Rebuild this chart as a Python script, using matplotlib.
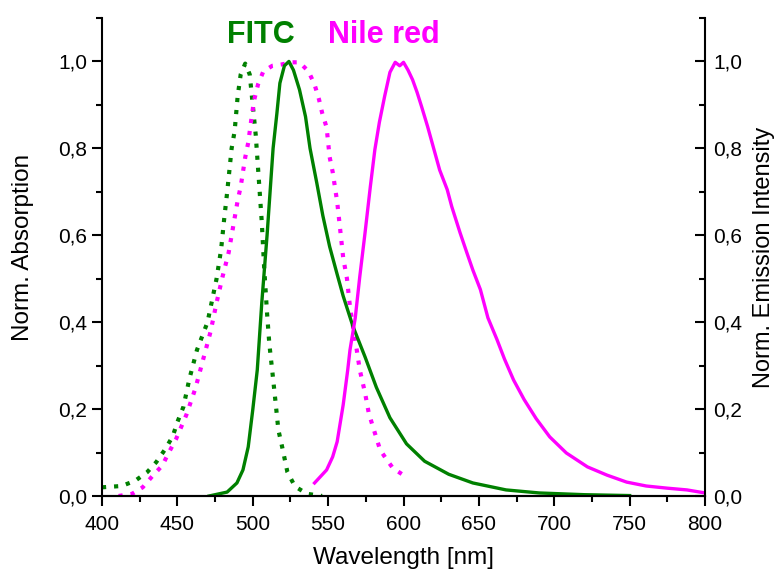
# Absorption / emission spectra of FITC and Nile red
# Values.
import matplotlib
matplotlib.use("Agg")
import matplotlib.pyplot as plt
from matplotlib.ticker import MultipleLocator, FuncFormatter

# FITC absorption (dotted green)
fitc_abs_wl = [400, 413, 422, 430, 436, 442, 447, 450, 454, 458, 463, 470, 476,
               479, 481, 483, 486, 488, 490, 492, 495, 498, 500, 502, 504, 506,
               507.5, 509.5, 511, 513, 515, 517, 519.5, 523, 528, 536, 546]
fitc_abs = [0.02, 0.023, 0.035, 0.055, 0.078, 0.108, 0.138, 0.17, 0.205, 0.27,
            0.336, 0.40, 0.50, 0.567, 0.636, 0.698, 0.80, 0.84, 0.92, 0.97,
            0.995, 0.97, 0.90, 0.83, 0.73, 0.63, 0.53, 0.42, 0.35, 0.286, 0.22,
            0.152, 0.113, 0.055, 0.022, 0.005, 0.0]

# FITC emission (solid green)
fitc_em_wl = [471, 483, 489.5, 493.5, 497, 500, 503, 506, 509.5, 511.5, 513.5,
              516, 518, 521, 524, 527, 531, 535, 538, 542.5, 546.5, 551, 556,
              560, 566.5, 574.5, 582, 591, 602, 614, 630, 646, 668, 690, 720, 750]
fitc_em = [0.0, 0.009, 0.03, 0.06, 0.113, 0.198, 0.29, 0.445, 0.60, 0.70, 0.80,
           0.88, 0.95, 0.99, 1.0, 0.98, 0.935, 0.873, 0.80, 0.72, 0.645, 0.574,
           0.51, 0.46, 0.39, 0.32, 0.25, 0.18, 0.12, 0.08, 0.05, 0.03, 0.014,
           0.007, 0.003, 0.001]

# Nile red absorption (dotted magenta)
nile_abs_wl = [411, 420, 427, 434, 440, 444, 449, 456, 462, 467, 472, 476, 480,
               484, 487, 490, 492, 495, 497, 499.5, 501, 503.5, 507, 513, 519,
               526, 531, 537, 541, 544, 546, 549, 551, 553, 556, 558, 560,
               562.5, 564.5, 566.5, 569, 571, 574.5, 577, 581, 584.5, 589, 593,
               600]
nile_abs = [0.0, 0.005, 0.02, 0.048, 0.07, 0.098, 0.13, 0.187, 0.248, 0.313,
            0.378, 0.445, 0.505, 0.56, 0.62, 0.68, 0.712, 0.779, 0.813, 0.878,
            0.912, 0.947, 0.977, 0.99, 0.993, 0.998, 0.998, 0.977, 0.947, 0.912,
            0.882, 0.848, 0.78, 0.746, 0.677, 0.613, 0.548, 0.50, 0.435, 0.39,
            0.336, 0.29, 0.237, 0.19, 0.145, 0.106, 0.083, 0.064, 0.048]

# Nile red emission (solid magenta)
nile_em_wl = [541, 549, 553, 556, 560, 563, 564.5, 568, 571, 574.5, 578, 581,
              584, 587.5, 591, 594.5, 597.5, 600, 603, 606, 609, 612, 616, 620,
              624, 629, 632, 637.5, 642, 646, 651, 656, 662, 667, 673, 680, 688,
              697, 708, 722, 735, 748, 761, 775, 788, 800]
nile_em = [0.03, 0.06, 0.09, 0.125, 0.21, 0.29, 0.336, 0.41, 0.505, 0.606,
           0.712, 0.797, 0.86, 0.92, 0.975, 0.998, 0.99, 0.998, 0.98, 0.958,
           0.929, 0.896, 0.85, 0.80, 0.75, 0.705, 0.666, 0.606, 0.56, 0.52,
           0.475, 0.41, 0.36, 0.315, 0.267, 0.222, 0.178, 0.136, 0.099, 0.067,
           0.048, 0.032, 0.023, 0.018, 0.014, 0.007]

GREEN = "#008000"
MAGENTA = "#ff00ff"

plt.rcParams["font.family"] = ["Liberation Sans", "DejaVu Sans"]


def comma_fmt(v, pos):
    # German style decimal comma
    return ("%.1f" % v).replace(".", ",")


def style_axis(ax):
    ax.set_xlim(400, 800)
    ax.set_ylim(0, 1.1)
    ax.xaxis.set_major_locator(MultipleLocator(50))
    ax.xaxis.set_minor_locator(MultipleLocator(25))
    ax.yaxis.set_major_locator(MultipleLocator(0.2))
    ax.yaxis.set_minor_locator(MultipleLocator(0.1))
    ax.yaxis.set_major_formatter(FuncFormatter(comma_fmt))
    ax.spines["top"].set_visible(False)
    for s in ["left", "right", "bottom"]:
        ax.spines[s].set_linewidth(1.5)


fig = plt.figure(figsize=(7.75, 5.69), dpi=100)
ax = fig.add_axes([0.1316, 0.1283, 0.7781, 0.8401])
style_axis(ax)
ax.spines["right"].set_visible(False)

dots = (0, (1.0, 1.9))
ax.plot(fitc_abs_wl, fitc_abs, color=GREEN, lw=3.0, linestyle=dots)
ax.plot(nile_abs_wl, nile_abs, color=MAGENTA, lw=3.0, linestyle=dots)

# emission goes on the right-hand axis
ax2 = ax.twinx()
style_axis(ax2)
ax2.spines["left"].set_visible(False)
ax2.plot(fitc_em_wl, fitc_em, color=GREEN, lw=2.4)
ax2.plot(nile_em_wl, nile_em, color=MAGENTA, lw=2.4)

ax.tick_params(axis="both", which="major", direction="out", length=7,
               width=1.5, labelsize=15)
ax.tick_params(axis="both", which="minor", direction="out", length=4,
               width=1.5)
ax.tick_params(axis="x", pad=7)
ax2.tick_params(axis="y", which="major", direction="in", length=7,
                width=1.5, labelsize=15, pad=6)
ax2.tick_params(axis="y", which="minor", direction="in", length=4,
                width=1.5)

ax.set_xlabel("Wavelength [nm]", fontsize=17.5, labelpad=9)
ax.set_ylabel("Norm. Absorption", fontsize=17.5)
ax2.set_ylabel("Norm. Emission Intensity", fontsize=17)
# label positions (axes coords)
ax.yaxis.set_label_coords(-0.112, 0.52)
ax2.yaxis.set_label_coords(1.08, 0.5)

ax.text(505.5, 1.06, "FITC", color=GREEN, fontsize=22, fontweight="bold",
        ha="center", va="center")
ax.text(587, 1.06, "Nile red", color=MAGENTA, fontsize=22, fontweight="bold",
        ha="center", va="center")

fig.savefig("out.png", dpi=100)
